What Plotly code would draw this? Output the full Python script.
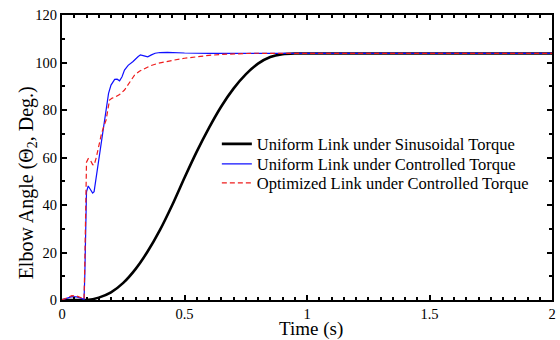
import plotly.graph_objects as go

# Elbow angle histories (time in s, angle in degrees)
t_sin = [0.0, 0.09, 0.1, 0.15, 0.2, 0.25, 0.3, 0.35, 0.4, 0.45, 0.5, 0.55, 0.6,
         0.65, 0.7, 0.75, 0.8, 0.85, 0.9, 0.95, 1.0, 1.5, 2.0]
th_sin = [0.0, 0.0, 0.0, 1.0, 3.2, 7.2, 13.0, 20.5, 29.5, 40.0, 51.5, 62.5, 72.5,
          81.5, 89.0, 95.0, 99.5, 102.3, 103.5, 103.8, 103.8, 103.8, 103.8]

t_uni = [0.0, 0.02, 0.04, 0.06, 0.08, 0.09, 0.093, 0.097, 0.1, 0.107, 0.115, 0.125,
         0.131, 0.14, 0.15, 0.16, 0.174, 0.18, 0.19, 0.2, 0.215, 0.225, 0.235, 0.245,
         0.255, 0.27, 0.29, 0.31, 0.32, 0.335, 0.35, 0.365, 0.38, 0.4, 0.43, 0.5,
         0.6, 0.8, 1.0, 1.5, 2.0]
th_uni = [0.0, 0.8, 1.4, 1.3, 0.8, 0.3, 10.0, 42.0, 45.5, 48.0, 46.5, 45.0,
          45.6, 52.0, 59.0, 66.0, 75.8, 81.0, 87.0, 90.5, 92.9, 93.0, 92.3, 94.0,
          96.8, 98.8, 100.4, 102.4, 103.2, 102.8, 102.4, 103.2, 103.9, 104.2, 104.3, 104.0,
          103.8, 103.8, 103.8, 103.8, 103.8]

t_opt = [0.0, 0.02, 0.04, 0.06, 0.08, 0.09, 0.093, 0.097, 0.1, 0.107, 0.115, 0.125,
         0.131, 0.14, 0.15, 0.16, 0.17, 0.18, 0.194, 0.205, 0.22, 0.235, 0.255, 0.275,
         0.296, 0.316, 0.336, 0.36, 0.39, 0.42, 0.457, 0.5, 0.54, 0.6, 0.65, 0.78,
         1.0, 1.5, 2.0]
th_opt = [0.0, 1.0, 1.8, 1.7, 1.0, 0.4, 15.0, 55.0, 58.0, 59.5, 59.0, 57.0,
          56.8, 60.0, 65.0, 69.5, 73.0, 75.8, 84.2, 85.0, 85.6, 86.5, 88.4, 91.5,
          94.7, 96.3, 97.5, 98.6, 99.6, 100.3, 101.0, 101.8, 102.4, 103.0, 103.4, 103.9,
          103.8, 103.8, 103.8]

FONT = "Liberation Serif"

fig = go.Figure()
fig.add_trace(go.Scatter(x=t_sin, y=th_sin, mode="lines",
                         line=dict(color="black", width=2.6, shape="spline", smoothing=0.6),
                         name="Uniform Link under Sinusoidal Torque", legend="legend",
                         showlegend=True))
fig.add_trace(go.Scatter(x=t_uni, y=th_uni, mode="lines",
                         line=dict(color="#1010ff", width=1.2),
                         name="Uniform Link under Controlled Torque", legend="legend2",
                         showlegend=True))
fig.add_trace(go.Scatter(x=t_opt, y=th_opt, mode="lines",
                         line=dict(color="#ee1c1c", width=1.2, dash="5px,3px"),
                         name="Optimized Link under Controlled Torque", legend="legend3",
                         showlegend=True))

axis_common = dict(
    showline=True, linecolor="black", linewidth=2, mirror="allticks",
    ticks="inside", ticklen=5, tickwidth=1.5, tickcolor="black",
    showgrid=False, zeroline=False,
    tickfont=dict(family=FONT, size=14.5, color="black"),
)

fig.update_xaxes(range=[0, 2], tickvals=[0, 0.5, 1, 1.5, 2],
                 ticktext=["0", "0.5", "1", "1.5", "2"],
                 minor=dict(dtick=0.05, ticks="inside", ticklen=3, tickcolor="black"),
                 **axis_common)
fig.update_yaxes(range=[0, 120], dtick=20,
                 minor=dict(dtick=10, ticks="inside", ticklen=3, tickcolor="black"),
                 **axis_common)

# axis labels
fig.add_annotation(text="Time (s)", xref="paper", yref="paper", x=0.508, y=-0.101,
                   xanchor="center", yanchor="middle", showarrow=False,
                   font=dict(family=FONT, size=19, color="black"))
fig.add_annotation(text="Elbow Angle (\u0398<sub>2</sub>, Deg.)", textangle=-90,
                   xref="paper", yref="paper", x=-0.071, y=0.41,
                   xanchor="center", yanchor="middle", showarrow=False,
                   font=dict(family=FONT, size=20, color="black"))

leg_common = dict(x=0.316, xanchor="left", yanchor="middle",
                  bgcolor="rgba(0,0,0,0)", borderwidth=0,
                  font=dict(family=FONT, size=16.5, color="black"),
                  itemwidth=30)

fig.update_layout(
    width=560, height=340,
    showlegend=True,
    margin=dict(l=62, r=4, t=15, b=40),
    paper_bgcolor="white", plot_bgcolor="white",
    font=dict(family=FONT, color="black"),
    legend=dict(y=0.547, **leg_common),
    legend2=dict(y=0.477, **leg_common),
    legend3=dict(y=0.41, **leg_common),
)

fig.write_html("out.html")
